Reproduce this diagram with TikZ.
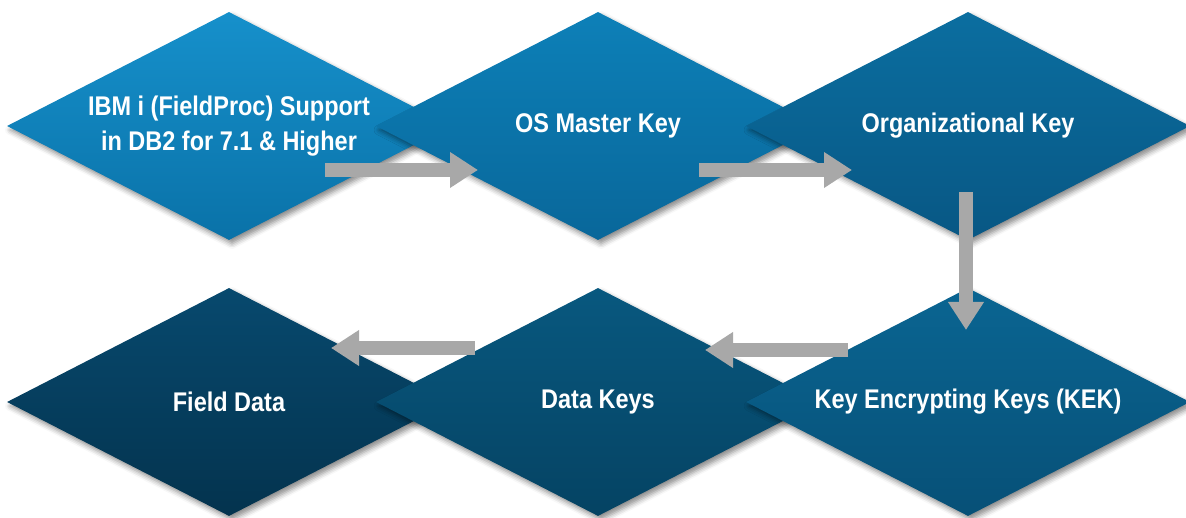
\documentclass[tikz,border=0pt]{standalone}
\usepackage{fontspec}
\newfontfamily\labelfont{Liberation Sans Bold}[FakeStretch=0.87]
\usetikzlibrary{shapes.geometric,arrows.meta,shadows.blur}
\definecolor{ibmtop}{HTML}{1690CB}
\definecolor{ibmbot}{HTML}{0A72A8}
\definecolor{ostop}{HTML}{0D80B8}
\definecolor{osbot}{HTML}{09679A}
\definecolor{orgtop}{HTML}{0B6EA0}
\definecolor{orgbot}{HTML}{085784}
\definecolor{kektop}{HTML}{0A6592}
\definecolor{kekbot}{HTML}{075077}
\definecolor{dktop}{HTML}{08587F}
\definecolor{dkbot}{HTML}{054363}
\definecolor{fdtop}{HTML}{07496E}
\definecolor{fdbot}{HTML}{04334E}
\definecolor{arrowgray}{HTML}{A8A8A8}
\begin{document}
\begin{tikzpicture}[x=1pt,y=-1pt]
  \tikzset{ dia/.style={diamond,aspect=1.95,minimum width=444pt,minimum height=228pt,inner sep=0pt,
      text=white,align=center,font=\labelfont\fontsize{27}{35}\selectfont,
      blur shadow={shadow xshift=3pt,shadow yshift=-4pt,shadow blur radius=5pt,shadow opacity=45}},
    arw/.style={draw=arrowgray,line width=14pt,-{Triangle[length=28pt,width=34pt]}},
  }
  \useasboundingbox (0,0) rectangle (1186,518);

  \node[dia,top color=ibmtop,bottom color=ibmbot] (ibm) at (229,126) {IBM i (FieldProc) Support\\in DB2 for 7.1 \& Higher};
  \node[dia,top color=ostop,bottom color=osbot] (osmk) at (598,126) {OS Master Key};
  \node[dia,top color=orgtop,bottom color=orgbot] (org) at (968,126) {Organizational Key};

  \node[dia,top color=fdtop,bottom color=fdbot] (fd) at (229,402) {Field Data};
  \node[dia,top color=dktop,bottom color=dkbot] (dk) at (598,402) {Data Keys};
  \node[dia,top color=kektop,bottom color=kekbot] (kek) at (968,402) {Key Encrypting Keys (KEK)};

  % the arrows between the keys
  \draw[arw] ([xshift=96pt,yshift=-44pt]ibm.center) -- ([xshift=-120pt,yshift=-44pt]osmk.center);
  \draw[arw] ([xshift=101pt,yshift=-44pt]osmk.center) -- ([xshift=-116pt,yshift=-44pt]org.center);
  \draw[arw] ([xshift=-2pt,yshift=-66pt]org.center) -- ([xshift=-2pt,yshift=72pt]kek.center);
  \draw[arw] ([xshift=-120pt,yshift=52pt]kek.center) -- ([xshift=107pt,yshift=52pt]dk.center);
  \draw[arw] ([xshift=-123pt,yshift=54pt]dk.center) -- ([xshift=102pt,yshift=54pt]fd.center);
\end{tikzpicture}
\end{document}
